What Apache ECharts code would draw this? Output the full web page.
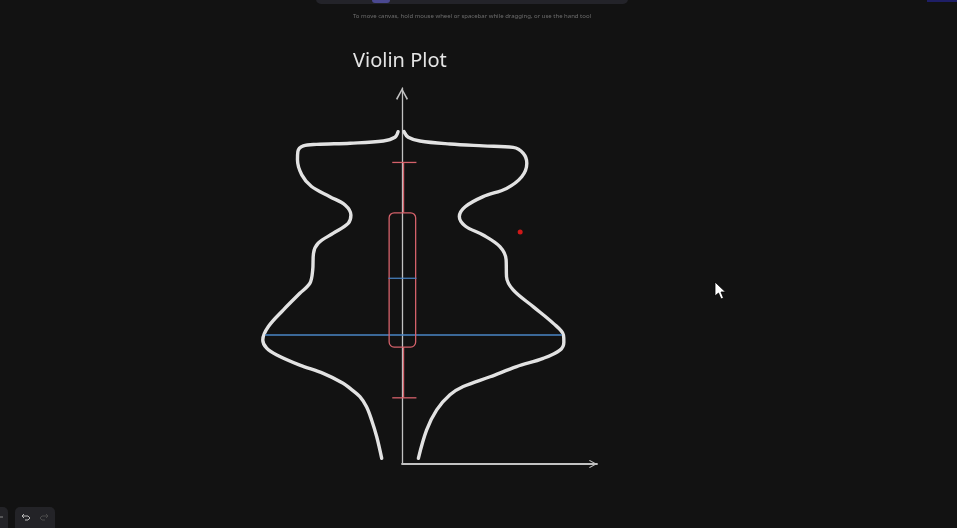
<!DOCTYPE html>
<html>
<head>
<meta charset="utf-8">
<title>Violin Plot</title>
<script src="https://cdn.jsdelivr.net/npm/echarts@6/dist/echarts.min.js"></script>
<style>
  html, body { margin: 0; padding: 0; background: #121212; }
  #chart { width: 957px; height: 528px; }
</style>
</head>
<body>
<div id="chart"></div>
<script>
// violin outline, [density, value] - left half has negative density
var leftOutline = [
    [-0.10, 8.84], [-0.18, 8.69], [-0.48, 8.59], [-1.33, 8.53], [-2.19, 8.50],
    [-2.53, 8.46], [-2.67, 8.31], [-2.68, 8.09], [-2.57, 7.69], [-2.32, 7.38],
    [-1.85, 7.11], [-1.46, 6.89], [-1.31, 6.62], [-1.38, 6.40], [-1.76, 6.14],
    [-2.15, 5.87], [-2.27, 5.60], [-2.29, 5.16], [-2.36, 4.81], [-2.62, 4.54],
    [-3.04, 4.10], [-3.43, 3.65], [-3.57, 3.30], [-3.47, 3.08], [-3.21, 2.90],
    [-2.62, 2.63], [-2.02, 2.41], [-1.51, 2.15], [-1.33, 2.01], [-1.08, 1.79],
    [-0.91, 1.52], [-0.78, 1.17], [-0.65, 0.73], [-0.52, 0.15]
];
var rightOutline = [
    [0.05, 8.84], [0.16, 8.69], [0.46, 8.59], [1.23, 8.51], [2.08, 8.46],
    [2.85, 8.42], [3.11, 8.26], [3.20, 8.00], [3.07, 7.64], [2.68, 7.33],
    [2.08, 7.11], [1.62, 6.84], [1.47, 6.58], [1.62, 6.33], [2.08, 6.09],
    [2.51, 5.78], [2.67, 5.43], [2.68, 4.98], [2.85, 4.63], [3.37, 4.18],
    [3.88, 3.74], [4.14, 3.43], [4.15, 3.24], [4.05, 3.03], [3.62, 2.81],
    [2.94, 2.59], [2.26, 2.32], [1.57, 2.06], [1.23, 1.84], [0.89, 1.44],
    [0.63, 0.90], [0.42, 0.15]
];
// box: whisker low, q1, mean, q3, whisker high
var boxStats = [1.76, 3.11, 4.94, 6.68, 8.02];
var median = 3.43;
var medianSpan = [-3.51, 4.10];
var laserPoint = [[3.03, 6.17]];

var myChart = echarts.init(document.getElementById('chart'));

var chevron = 'path://M5,0 L10,9 L9,10 L5,2.4 L1,10 L0,9 Z';
var axisGrey = '#c2c2c2';
var boxRed = '#d4616a';
var hidden = {show: false};

// boxplot drawn over the violin centre line
function renderBox(params, api) {
    var lo = api.coord([0.04, api.value(0)]);
    var q1 = api.coord([0.04, api.value(1)]);
    var mean = api.value(2);
    var q3 = api.coord([0.04, api.value(3)]);
    var hi = api.coord([0.04, api.value(4)]);
    var bl = api.coord([-0.33, 0])[0];
    var br = api.coord([0.35, 0])[0];
    var cl = api.coord([-0.25, 0])[0];
    var cr = api.coord([0.37, 0])[0];
    var m = api.coord([0, mean])[1];
    var ml = api.coord([-0.35, 0])[0];
    var mr = api.coord([0.37, 0])[0];
    var ls = {stroke: boxRed, lineWidth: 1.3, fill: null};
    return {
        type: 'group',
        children: [
            {type: 'line', shape: {x1: hi[0], y1: hi[1], x2: q3[0], y2: q3[1]}, style: ls},
            {type: 'line', shape: {x1: q1[0], y1: q1[1], x2: lo[0], y2: lo[1]}, style: ls},
            {type: 'line', shape: {x1: cl, y1: hi[1], x2: cr, y2: hi[1]}, style: ls},
            {type: 'line', shape: {x1: cl, y1: lo[1], x2: cr, y2: lo[1]}, style: ls},
            {type: 'rect', shape: {x: bl, y: q3[1], width: br - bl, height: q1[1] - q3[1], r: 5}, style: ls},
            {type: 'line', shape: {x1: ml, y1: m, x2: mr, y2: m}, style: {stroke: '#4a86c6', lineWidth: 1.2}}
        ]
    };
}

var option = {
    backgroundColor: '#121212',
    animation: false,
    title: {
        text: 'Violin Plot',
        left: 348,
        top: 46,
        textStyle: {
            color: '#e4e4e4',
            fontFamily: 'Noto Sans',
            fontWeight: 'normal',
            fontSize: 20
        }
    },
    grid: [
        // axes only, starting at the violin centre
        {left: 402, right: 360, top: 88, bottom: 64},
        // data grid, same scale, reaching left for the negative half
        {left: 246, right: 360, top: 88, bottom: 64}
    ],
    xAxis: [
        {
            type: 'value',
            gridIndex: 0,
            min: 0,
            max: 5,
            axisLine: {
                show: true,
                symbol: ['none', chevron],
                symbolSize: [16, 8],
                symbolOffset: [0, -4],
                lineStyle: {color: axisGrey, width: 1.8}
            },
            axisTick: hidden,
            axisLabel: hidden,
            splitLine: hidden
        },
        {
            type: 'value',
            gridIndex: 1,
            min: -4,
            max: 5,
            axisLine: hidden,
            axisTick: hidden,
            axisLabel: hidden,
            splitLine: hidden
        }
    ],
    yAxis: [
        {
            type: 'value',
            gridIndex: 0,
            min: 0,
            max: 10,
            axisLine: {
                show: true,
                symbol: ['none', chevron],
                symbolSize: [13, 12],
                symbolOffset: [0, -6],
                lineStyle: {color: axisGrey, width: 1.3}
            },
            axisTick: hidden,
            axisLabel: hidden,
            splitLine: hidden
        },
        {
            type: 'value',
            gridIndex: 1,
            min: 0,
            max: 10,
            axisLine: hidden,
            axisTick: hidden,
            axisLabel: hidden,
            splitLine: hidden
        }
    ],
    series: [
        {
            name: 'left',
            type: 'line',
            xAxisIndex: 1,
            yAxisIndex: 1,
            data: leftOutline,
            smooth: 0.35,
            showSymbol: false,
            z: 3,
            lineStyle: {color: '#e2e2e2', width: 3.4, cap: 'round', join: 'round'}
        },
        {
            name: 'right',
            type: 'line',
            xAxisIndex: 1,
            yAxisIndex: 1,
            data: rightOutline,
            smooth: 0.35,
            showSymbol: false,
            z: 3,
            lineStyle: {color: '#e2e2e2', width: 3.4, cap: 'round', join: 'round'}
        },
        {
            name: 'median',
            type: 'line',
            xAxisIndex: 1,
            yAxisIndex: 1,
            data: [[medianSpan[0], median], [medianSpan[1], median]],
            showSymbol: false,
            z: 4,
            lineStyle: {color: '#4a86c6', width: 1.5}
        },
        {
            name: 'box',
            type: 'custom',
            xAxisIndex: 1,
            yAxisIndex: 1,
            z: 5,
            renderItem: renderBox,
            data: [boxStats]
        },
        {
            name: 'laser',
            type: 'scatter',
            xAxisIndex: 1,
            yAxisIndex: 1,
            data: laserPoint,
            symbolSize: 5,
            itemStyle: {color: '#ff1a1a'}
        }
    ],
    graphic: [
        // top toolbar edge
        {type: 'rect', left: 316, top: -6, shape: {width: 312, height: 10, r: 5}, style: {fill: '#232329'}},
        {type: 'rect', left: 372, top: -4, shape: {width: 18, height: 7, r: 3}, style: {fill: '#4a4890'}},
        {type: 'rect', left: 927, top: 0, shape: {width: 30, height: 2}, style: {fill: '#1e1e66'}},
        {
            type: 'text', x: 472, y: 13,
            style: {
                text: 'To move canvas, hold mouse wheel or spacebar while dragging, or use the hand tool',
                fill: '#6e6e6e', font: '6px "Noto Sans"', textAlign: 'center'
            }
        },
        // bottom left undo / redo
        {type: 'rect', left: -10, top: 507, shape: {width: 18, height: 26, r: 5}, style: {fill: '#232327'}},
        {type: 'line', shape: {x1: -1, y1: 517, x2: 3, y2: 517}, style: {stroke: '#8a8a8a', lineWidth: 1}},
        {type: 'rect', left: 15, top: 507, shape: {width: 40, height: 26, r: 5}, style: {fill: '#232327'}},
        {type: 'polyline', shape: {points: [[24, 514], [22, 516], [24, 518], [22, 516], [28, 516], [30, 518], [28, 520], [25, 520]]}, style: {stroke: '#b8b8b8', lineWidth: 1, fill: null}},
        {type: 'polyline', shape: {points: [[46, 514], [48, 516], [46, 518], [48, 516], [42, 516], [40, 518], [42, 520], [45, 520]]}, style: {stroke: '#4a4a4a', lineWidth: 1, fill: null}},
        // mouse cursor
        {type: 'polygon', shape: {points: [[715, 282], [715, 296], [718.5, 293], [721, 299], [723.5, 298], [721, 292], [725.5, 292]]}, style: {fill: '#ffffff', stroke: '#000000', lineWidth: 0.8}}
    ]
};

myChart.setOption(option);
</script>
</body>
</html>
